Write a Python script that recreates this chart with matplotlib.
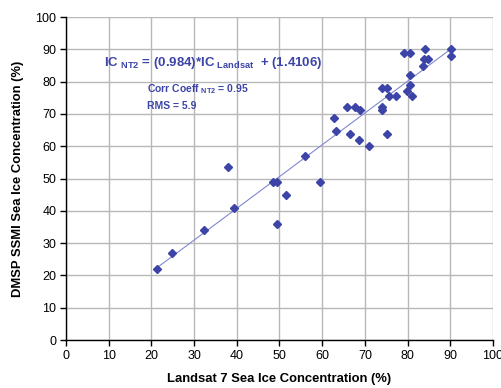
import matplotlib
matplotlib.use("Agg")
import matplotlib.pyplot as plt
import numpy as np

# Landsat 7 vs DMSP SSMI sea ice concentration (%)
landsat = [21.2, 24.9, 32.4, 37.9, 39.3, 48.4, 49.5, 49.5, 51.5, 56.0,
           59.5, 62.8, 63.2, 65.8, 66.5, 67.8, 68.6, 68.9, 71.0, 74.0,
           74.0, 74.0, 75.1, 75.1, 75.7, 77.4, 79.2, 80.6, 79.8, 80.6,
           80.6, 81.0, 83.7, 83.9, 84.7, 84.1, 90.2, 90.2]
ssmi = [22.1, 27.0, 34.0, 53.7, 40.8, 49.0, 49.0, 35.8, 45.0, 57.0,
        49.0, 68.9, 64.8, 72.1, 63.8, 72.1, 62.0, 71.1, 60.1, 72.1,
        71.1, 78.0, 78.0, 63.8, 75.7, 75.7, 89.0, 89.0, 77.2, 82.0,
        78.9, 75.7, 84.9, 86.9, 86.9, 90.0, 90.0, 88.0]
slope, intercept = 0.984, 1.4106
ticks = list(range(0, 101, 10))

plt.rcParams["font.family"] = ["Liberation Sans", "DejaVu Sans"]
plt.rcParams["mathtext.fontset"] = "custom"
plt.rcParams["mathtext.rm"] = "Liberation Sans"
plt.rcParams["mathtext.bf"] = "Liberation Sans:bold"

BLUE = "#3c44a8"
fig = plt.figure(figsize=(5.02, 3.88), dpi=100)
ax = fig.add_axes([0.1315, 0.1237, 0.8505, 0.8323])

ax.set_xlim(0, 100); ax.set_ylim(0, 100)
ax.set_xticks(ticks); ax.set_yticks(ticks)
ax.grid(True, color="#b8b8b8", lw=1.0)
ax.set_axisbelow(True)
for s in ("top", "right"):
    ax.spines[s].set_visible(False)
for s in ("left", "bottom"):
    ax.spines[s].set_color("black"); ax.spines[s].set_linewidth(1.0)
ax.tick_params(direction="out", length=4, width=1, labelsize=9, colors="black", pad=3)

x = np.array(landsat)
xs = np.array([x.min(), x.max()])
ax.plot(xs, slope * xs + intercept, color="#8088d0", lw=0.8, zorder=2)
ax.plot(landsat, ssmi, "D", color=BLUE, ms=4, mec=BLUE, zorder=3)

ax.text(8.8, 85.8, r"IC$_{\mathbf{\ NT2}}$ = (0.984)*IC$_{\mathbf{\ Landsat}}$  + (1.4106)",
        color=BLUE, fontsize=9.5, fontweight="bold", va="center")
ax.text(19, 77.7, r"Corr Coeff$_{\mathbf{\ NT2}}$ = 0.95", color=BLUE, fontsize=7.5,
        fontweight="bold", va="center")
ax.text(19, 72.4, "RMS = 5.9", color=BLUE, fontsize=7.5, fontweight="bold", va="center")

ax.set_xlabel("Landsat 7 Sea Ice Concentration (%)", fontsize=9.4, fontweight="bold", labelpad=8)
ax.set_ylabel("DMSP SSMI Sea Ice Concentration (%)", fontsize=9.4, fontweight="bold", labelpad=8)

fig.savefig("out.png", dpi=100)
